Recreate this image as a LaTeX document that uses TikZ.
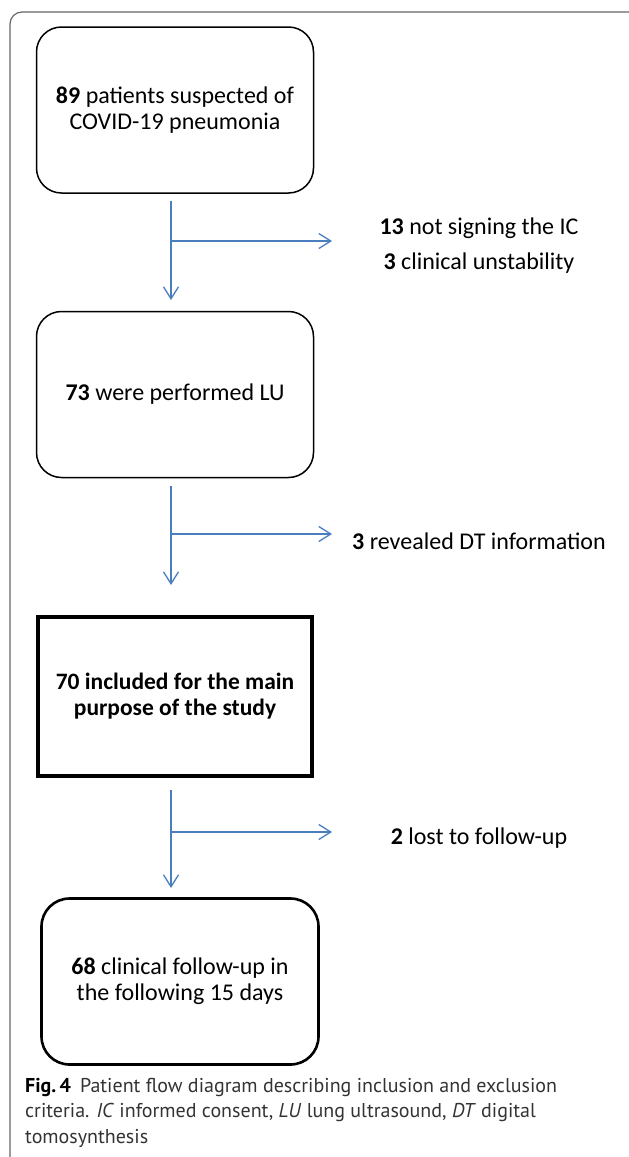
\documentclass[tikz,border=0pt]{standalone}
\usepackage{fontspec}
\setmainfont{Carlito}
\newfontfamily\capfont{PT Sans}
\usetikzlibrary{arrows.meta}
\definecolor{arrblue}{HTML}{4A7EBF}
\definecolor{framegray}{HTML}{666666}
\definecolor{capgray}{HTML}{333333}
\tikzset{
  flowbox/.style={draw=black, line width=1.5pt, rounded corners=25pt, minimum width=277pt, minimum height=166pt, align=center, inner sep=0pt, font=\fontsize{24}{26}\selectfont},
  mainbox/.style={draw=black, line width=4pt, minimum width=274pt, minimum height=159pt, align=center, inner sep=0pt, font=\fontsize{23.5}{26}\selectfont\bfseries},
  lastbox/.style={flowbox, line width=2.6pt, rounded corners=28pt},
  exclabel/.style={font=\fontsize{24}{26}\selectfont, inner sep=0pt},
  flowarrow/.style={draw=arrblue, line width=1.3pt, -{Straight Barb[length=12pt,width=15pt,line width=1.3pt]}},
  caption/.style={font=\capfont\fontsize{20}{25}\selectfont, text=capgray, anchor=west, inner sep=0pt}
}
\begin{document}
\begin{tikzpicture}[x=1pt,y=-1pt]
\useasboundingbox (0,0) rectangle (629,1157);
% outer frame
\draw[framegray, line width=1.2pt, rounded corners=12pt] (10,1200) -- (10,12) -- (660,12);

% boxes
\node[flowbox] (b1) at (175,110) {\textbf{89} patients suspected of\\COVID-19 pneumonia};
\node[flowbox] (b2) at (175,394.5) {\textbf{73} were performed LU};
\node[mainbox] (b3) at (175,696.5) {70 included for the main\\purpose of the study};
\node[lastbox] (b4) at (180,981.5) {\textbf{68} clinical follow-up in\\the following 15 days};

% exclusion labels
\node[exclabel] (e1) at (479,228) {\textbf{13} not signing the IC};
\node[exclabel] (e2) at (479,263) {\textbf{3} clinical unstability};
\node[exclabel] (e3) at (479,541) {\textbf{3} revealed DT information};
\node[exclabel] (e4) at (479,838) {\textbf{2} lost to follow-up};

% connectors
\coordinate (s1) at (171,201);
\coordinate (t1) at (171,300);
\coordinate (j1) at (171,241);
\coordinate (x1) at (332,241);
\draw[flowarrow] (s1) -- (t1);
\draw[flowarrow] (j1) -- (x1);

\coordinate (s2) at (171,486);
\coordinate (t2) at (171,585);
\coordinate (j2) at (171,534);
\coordinate (x2) at (332,534);
\draw[flowarrow] (s2) -- (t2);
\draw[flowarrow] (j2) -- (x2);

\coordinate (s3) at (171,790);
\coordinate (t3) at (171,888);
\coordinate (j3) at (171,832);
\coordinate (x3) at (332,832);
\draw[flowarrow] (s3) -- (t3);
\draw[flowarrow] (j3) -- (x3);

% caption
\node[caption] (c1) at (25,1087) {{\color{black}\bfseries Fig.\,4}\hspace{9pt}Patient flow diagram describing inclusion and exclusion};
\node[caption] (c2) at (25,1112) {criteria. \textit{IC} informed consent, \textit{LU} lung ultrasound, \textit{DT} digital};
\node[caption] (c3) at (25,1138) {tomosynthesis};
\end{tikzpicture}
\end{document}
